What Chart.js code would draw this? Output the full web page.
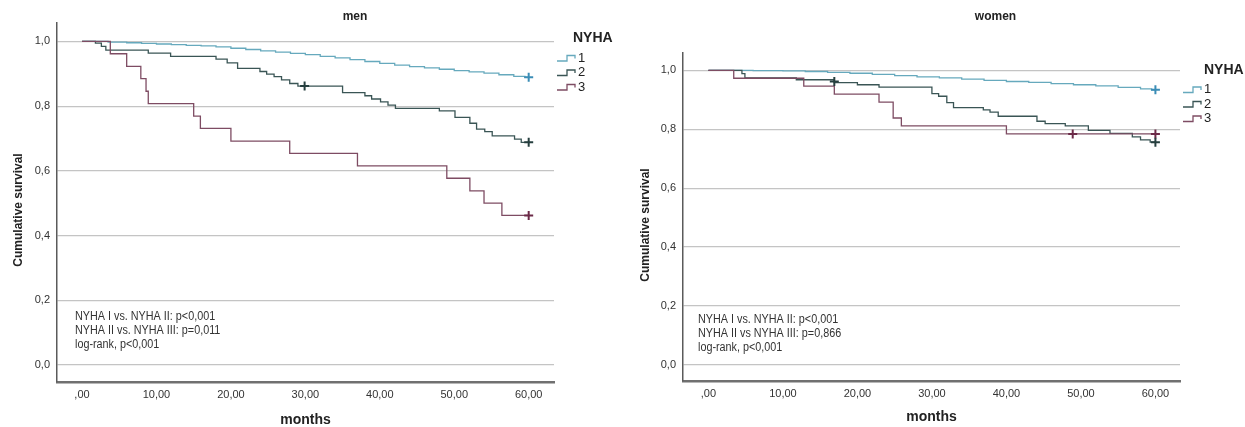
<!DOCTYPE html>
<html><head><meta charset="utf-8">
<script src="https://cdn.jsdelivr.net/npm/chart.js@4.4.0/dist/chart.umd.min.js"></script>
<style>
html,body{margin:0;padding:0;background:#fff;}
#wrap{position:relative;width:1245px;height:427px;overflow:hidden;background:#fff;}
canvas{position:absolute;top:0;}
#cMen{left:0;} #cWomen{left:626px;}
</style></head><body>
<div id="wrap"><canvas id="cMen" width="626" height="427"></canvas><canvas id="cWomen" width="619" height="427"></canvas></div>
<script>
// ---------- shared labels ----------
const groupLabels = ['1', '2', '3'];
const legendTitle = 'NYHA';
const xTicks = [0, 10, 20, 30, 40, 50, 60];
const xTickLabels = [',00', '10,00', '20,00', '30,00', '40,00', '50,00', '60,00'];
const yTicks = [0, 0.2, 0.4, 0.6, 0.8, 1.0];
const yTickLabels = ['0,0', '0,2', '0,4', '0,6', '0,8', '1,0'];
const xTitle = 'months';
const yTitle = 'Cumulative survival';

// ---------- men ----------
const menTitle = 'men';
const menTime1 = [0, 3.5, 6, 8, 10, 12, 14, 16, 18, 20, 22, 24, 26, 28, 30, 32, 34, 36, 38, 40, 42, 44, 46, 48, 50, 52, 54, 56, 58, 59.5, 60];
const menSurv1 = [1, .998, .996, .994, .992, .990, .988, .986, .983, .979, .975, .971, .967, .963, .959, .954, .949, .944, .938, .932, .927, .922, .918, .914, .910, .906, .902, .897, .892, .889, .889];
const menTime2 = [0, 1.8, 2.6, 3.2, 8.9, 11.9, 18.0, 19.5, 20.9, 23.9, 24.8, 25.8, 26.8, 27.9, 29.0, 35.0, 38.0, 38.9, 40.1, 41.1, 42.1, 48.0, 50.1, 52.1, 53.0, 54.1, 55.1, 58.1, 59.0, 60];
const menSurv2 = [1, .995, .985, .973, .964, .954, .945, .934, .917, .907, .899, .891, .881, .870, .862, .842, .832, .822, .813, .803, .793, .785, .765, .747, .729, .721, .708, .698, .688, .688];
const menTime3 = [0, 3.8, 6.0, 7.9, 8.6, 8.9, 15.0, 15.9, 20.0, 27.9, 37.0, 49.0, 52.1, 54.0, 56.4, 60];
const menSurv3 = [1, .962, .923, .885, .846, .808, .769, .731, .692, .654, .615, .577, .538, .500, .462, .462];
const menCensorTime1 = [60];
const menCensorSurv1 = [.889];
const menCensorTime2 = [29.9, 60];
const menCensorSurv2 = [.862, .688];
const menCensorTime3 = [60];
const menCensorSurv3 = [.462];
const menNotes = ['NYHA I vs. NYHA II: p<0,001', 'NYHA II vs. NYHA III: p=0,011', 'log-rank, p<0,001'];

// ---------- women ----------
const womenTitle = 'women';
const womenTime1 = [0, 6, 10, 13, 16, 19, 22, 25, 28, 31, 34, 37, 40, 43, 46, 49, 52, 55, 58, 59.5, 60];
const womenSurv1 = [1, .999, .998, .996, .993, .990, .986, .982, .978, .974, .970, .966, .962, .959, .955, .951, .947, .942, .937, .934, .934];
const womenTime2 = [0, 4.5, 4.9, 11.8, 16.9, 20.0, 22.9, 30.0, 30.9, 32.0, 32.9, 36.9, 37.8, 38.9, 44.1, 45.2, 47.9, 51.0, 53.9, 56.9, 58.0, 59.3, 60];
const womenSurv2 = [1, .989, .974, .968, .958, .951, .943, .921, .912, .890, .873, .866, .858, .844, .827, .819, .811, .796, .786, .774, .764, .756, .756];
const womenTime3 = [0, 3.4, 12.8, 16.9, 22.9, 24.8, 25.9, 40.0, 60];
const womenSurv3 = [1, .973, .946, .919, .892, .838, .811, .784, .784];
const womenCensorTime1 = [60];
const womenCensorSurv1 = [.934];
const womenCensorTime2 = [16.9, 60];
const womenCensorSurv2 = [.962, .756];
const womenCensorTime3 = [48.9, 60];
const womenCensorSurv3 = [.784, .784];
const womenNotes = ['NYHA I vs. NYHA II: p<0,001', 'NYHA II vs NYHA III: p=0,866', 'log-rank, p<0,001'];

// ---------- styling ----------
const lineColors = ['#66a9bd', '#3a5555', '#7e4c63'];
const censorColors = ['#3b8db6', '#263f3f', '#6c2a48'];
const SANS = '"Liberation Sans", Arial, sans-serif';

function pts(ts, vs) { return ts.map((t, i) => ({ x: t, y: vs[i] })); }

const decor = {
  id: 'decor',
  afterDraw(chart, args, o) {
    const ctx = chart.ctx;
    ctx.save();
    ctx.fillStyle = '#222';
    ctx.textBaseline = 'middle';
    ctx.textAlign = 'center';
    ctx.font = 'bold 12px ' + SANS;
    ctx.fillText(o.title, o.titleX, o.titleY);
    // y axis title
    ctx.save();
    ctx.translate(o.yTitleX, o.yTitleY);
    ctx.rotate(-Math.PI / 2);
    ctx.font = 'bold 12px ' + SANS;
    ctx.fillText(yTitle, 0, 0);
    ctx.restore();
    // legend
    ctx.textAlign = 'left';
    ctx.font = 'bold 14px ' + SANS;
    ctx.fillText(legendTitle, o.legTitleX, o.legTitleY);
    const lines = chart.data.datasets.filter(d => d.kmLine);
    lines.forEach((d, i) => {
      const x = o.legX, y = o.legY + i * o.legGap;
      ctx.strokeStyle = d.borderColor;
      ctx.lineWidth = 1.3;
      ctx.beginPath();
      ctx.moveTo(x, y + 3); ctx.lineTo(x + 10, y + 3); ctx.lineTo(x + 10, y - 2.5);
      ctx.lineTo(x + 18, y - 2.5); ctx.lineTo(x + 18, y + 0.5);
      ctx.stroke();
      ctx.fillStyle = '#222';
      ctx.font = '13px ' + SANS;
      ctx.fillText(d.label, x + o.legTextDx, y);
    });
    // notes (slightly condensed like the original)
    ctx.fillStyle = '#333';
    ctx.font = '12px ' + SANS;
    o.notes.forEach((t, i) => {
      ctx.save();
      ctx.translate(o.noteX, o.noteY + i * o.noteGap);
      ctx.scale(0.9, 1);
      ctx.fillText(t, 0, 0);
      ctx.restore();
    });
    ctx.restore();
  }
};

function makeChart(id, c) {
  const datasets = [];
  c.lines.forEach((l, i) => datasets.push({
    type: 'line', label: groupLabels[i], kmLine: true, data: pts(l[0], l[1]),
    borderColor: lineColors[i], borderWidth: 1.3, stepped: 'before', pointRadius: 0, fill: false, order: 3 - i
  }));
  c.censors.forEach((l, i) => datasets.push({
    type: 'scatter', label: 'censored ' + groupLabels[i], data: pts(l[0], l[1]),
    pointStyle: 'cross', pointRadius: 4.5, pointBorderWidth: 2, borderColor: censorColors[i],
    backgroundColor: censorColors[i], showLine: false, order: 0
  }));
  return new Chart(document.getElementById(id), {
    type: 'line',
    data: { datasets },
    plugins: [decor],
    options: {
      responsive: false, animation: false, devicePixelRatio: 1,
      events: [],
      layout: { padding: { left: 0, top: c.top, right: c.right, bottom: 0 } },
      plugins: {
        legend: { display: false }, tooltip: { enabled: false },
        decor: c.decor
      },
      scales: {
        x: {
          type: 'linear', min: c.xmin, max: c.xmax,
          grid: { display: false, drawTicks: false },
          border: { display: true, color: '#707070', width: 2.5 },
          afterBuildTicks: s => { s.ticks = xTicks.map(v => ({ value: v })); },
          afterFit: s => { s.height = c.xh; },
          ticks: { callback: (v, i) => xTickLabels[i], padding: 6, color: '#333', autoSkip: false, maxRotation: 0,
                   font: { family: SANS, size: 11 } },
          title: { display: true, text: xTitle, color: '#222', padding: { top: 0, bottom: c.xtPad },
                   font: { family: SANS, size: 14, weight: 'bold', lineHeight: 1 } }
        },
        y: {
          type: 'linear', min: c.ymin, max: c.ymax,
          grid: { color: '#c4c4c4', lineWidth: 1.2, drawTicks: false },
          border: { display: true, color: '#5a5a5a', width: 1.5 },
          afterBuildTicks: s => { s.ticks = yTicks.map(v => ({ value: v })); },
          afterFit: s => { s.width = 57; },
          ticks: { callback: (v, i) => yTickLabels[i], padding: 7, color: '#333',
                   font: { family: SANS, size: 11 } },
          title: { display: false }
        }
      }
    }
  });
}

makeChart('cMen', {
  top: 23, right: 72, xh: 45, xtPad: 0,
  xmin: -3.36, xmax: 63.4, ymin: -0.053, ymax: 1.057,
  lines: [[menTime1, menSurv1], [menTime2, menSurv2], [menTime3, menSurv3]],
  censors: [[menCensorTime1, menCensorSurv1], [menCensorTime2, menCensorSurv2], [menCensorTime3, menCensorSurv3]],
  decor: { title: menTitle, titleX: 355, titleY: 17, yTitleX: 19, yTitleY: 210,
           legTitleX: 573, legTitleY: 38, legX: 557, legY: 58, legGap: 14.5, legTextDx: 21,
           notes: menNotes, noteX: 75, noteY: 317, noteGap: 14 }
});

makeChart('cWomen', {
  top: 53, right: 65, xh: 46, xtPad: 3,
  xmin: -3.41, xmax: 63.3, ymin: -0.055, ymax: 1.0588,
  lines: [[womenTime1, womenSurv1], [womenTime2, womenSurv2], [womenTime3, womenSurv3]],
  censors: [[womenCensorTime1, womenCensorSurv1], [womenCensorTime2, womenCensorSurv2], [womenCensorTime3, womenCensorSurv3]],
  decor: { title: womenTitle, titleX: 369.5, titleY: 17, yTitleX: 20, yTitleY: 225,
           legTitleX: 578, legTitleY: 70, legX: 557, legY: 89.5, legGap: 14.5, legTextDx: 21,
           notes: womenNotes, noteX: 72, noteY: 320, noteGap: 14 }
});
</script>
</body></html>
